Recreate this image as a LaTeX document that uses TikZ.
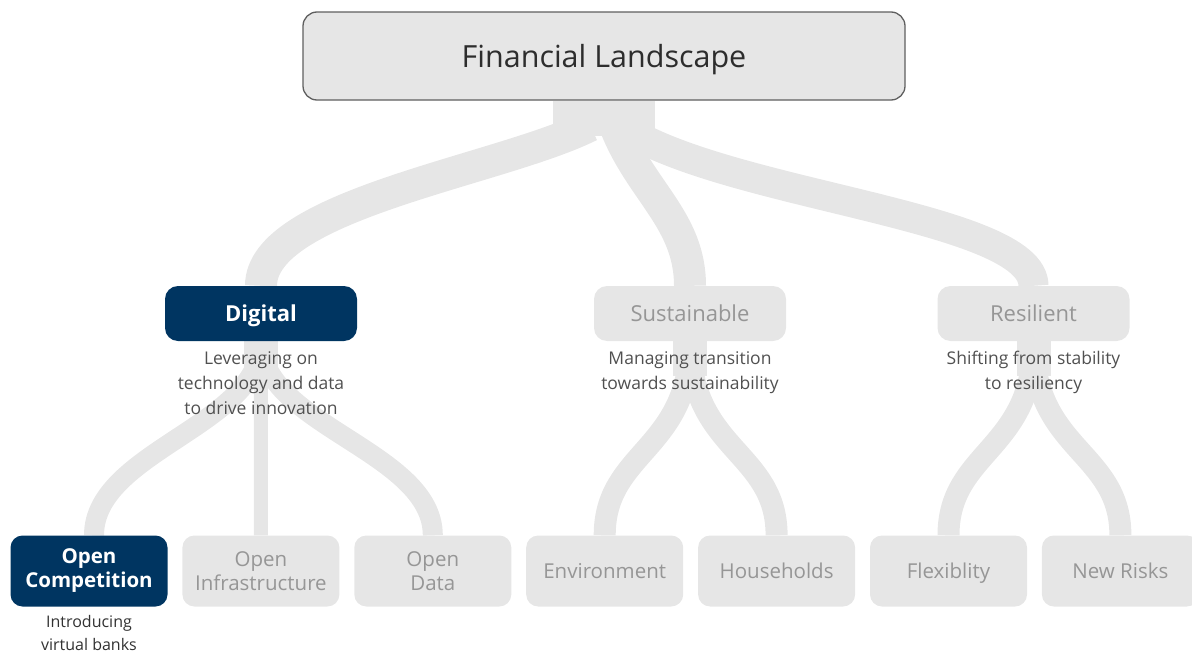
\documentclass[tikz,border=0pt]{standalone}
\usepackage{fontspec}
\setmainfont{Open Sans}
\usetikzlibrary{positioning,calc}

\definecolor{navy}{RGB}{0,53,97}
\definecolor{boxgray}{RGB}{230,230,230}
\definecolor{edgegray}{RGB}{95,95,95}
\definecolor{roottext}{RGB}{45,45,45}
\definecolor{dimtext}{RGB}{150,150,150}
\definecolor{desctext}{RGB}{80,80,80}
\definecolor{notetext}{RGB}{50,50,50}

\pgfdeclarelayer{bg}
\pgfsetlayers{bg,main}

\begin{document}
\begin{tikzpicture}[x=1pt,y=-1pt, node distance=14.5pt]
  \tikzset{
    root/.style={draw=edgegray, line width=1.3pt, fill=boxgray, rounded corners=14pt, minimum width=602pt, minimum height=88pt, inner sep=0pt, text height=22pt, text depth=0pt, text=roottext, font=\fontsize{30.5}{34}\selectfont},
    pillar/.style={fill=boxgray, rounded corners=13pt, minimum width=192pt, minimum height=55pt, inner sep=0pt, text height=16pt, text depth=0pt, text=dimtext, font=\fontsize{22}{26}\selectfont},
    pillaron/.style={pillar, fill=navy, text=white, font=\fontsize{22}{26}\selectfont\bfseries},
    leaf/.style={fill=boxgray, rounded corners=12pt, minimum width=157pt, minimum height=71pt, inner sep=0pt, align=center, text=dimtext, font=\fontsize{20.5}{24}\selectfont},
    oneline/.style={text height=15pt, text depth=0pt},
    leafon/.style={leaf, fill=navy, text=white, font=\fontsize{20.5}{24}\selectfont\bfseries},
    desc/.style={align=center, text=desctext, font=\fontsize{17.5}{25}\selectfont, inner sep=0pt},
    limb/.style={draw=boxgray, line width=34pt},
    twig/.style={draw=boxgray, line width=22pt}
  }
  \useasboundingbox (0,0) rectangle (1192,653);

  \node[root] (land) at (604,56) {Financial Landscape};

  \node[pillaron] (dig) at (261,313.5) {Digital};
  \node[pillar] (sus) at (690,313.5) {Sustainable};
  \node[pillar] (res) at (1033.5,313.5) {Resilient};

  \node[desc, below=10pt of dig] (digtxt) {Leveraging on\\technology and data\\to drive innovation};
  \node[desc, below=10pt of sus] (sustxt) {Managing transition\\towards sustainability};
  \node[desc, below=10pt of res] (restxt) {Shifting from stability\\to resiliency};

  \node[leafon] (comp) at (89,571) {Open\\Competition};
  \node[leaf, right=of comp] (infra) {Open\\Infrastructure};
  \node[leaf, right=of infra] (data) {Open\\Data};
  \node[leaf, oneline, right=of data] (env) {Environment};
  \node[leaf, oneline, right=of env] (house) {Households};
  \node[leaf, oneline, right=of house] (flex) {Flexiblity};
  \node[leaf, oneline, right=of flex] (risk) {New Risks};

  \node[desc, text=notetext, font=\fontsize{16}{22.5}\selectfont, below=8.5pt of comp] (comptxt) {Introducing\\virtual banks};

  \begin{pgfonlayer}{bg}
    % trunk and the three main limbs
    \draw[limb, line width=102pt] (land.south) -- ++(0,35);
    \draw[limb, line width=32pt] ($(land.south)+(-14,25)$) .. controls +(-90,45) and +(0,-81) .. (dig.north);
    \draw[limb, line width=32pt] ($(land.south)+(11,25)$) .. controls +(25,65) and +(0,-66) .. (sus.north);
    \draw[limb, line width=30pt] ($(land.south)+(16,25)$) .. controls +(100,70) and +(0,-71) .. (res.north);
    % digital
    \draw[limb] (dig.south) -- ++(0,30);
    \draw[twig, line width=20pt] (dig.south) .. controls +(0,84) and +(0,-84) .. ($(comp.north)+(5,0)$);
    \draw[twig, line width=14pt] (dig.south) -- (infra.north);
    \draw[twig, line width=20pt] (dig.south) .. controls +(0,84) and +(0,-84) .. (data.north);
    % sustainable
    \draw[limb] (sus.south) -- ++(0,35);
    \draw[twig] (sus.south) .. controls +(0,109) and +(0,-84) .. (env.north);
    \draw[twig] (sus.south) .. controls +(0,109) and +(0,-84) .. (house.north);
    % resilient
    \draw[limb] (res.south) -- ++(0,35);
    \draw[twig] (res.south) .. controls +(0,109) and +(0,-84) .. (flex.north);
    \draw[twig] (res.south) .. controls +(0,109) and +(0,-84) .. (risk.north);
  \end{pgfonlayer}
\end{tikzpicture}
\end{document}
